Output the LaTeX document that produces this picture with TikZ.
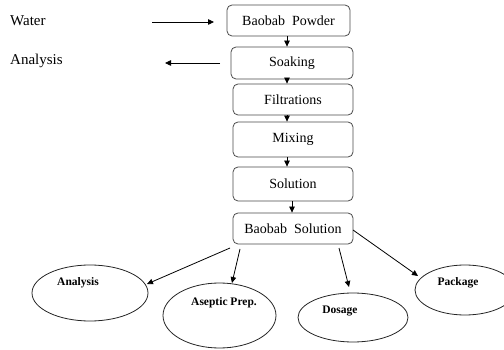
\documentclass[tikz,border=0pt]{standalone}
\usepackage{fontspec}
\setmainfont{Liberation Serif}
\usetikzlibrary{arrows.meta,shapes.geometric}
\begin{document}
\begin{tikzpicture}[x=1pt,y=-1pt,
  stepbox/.style={draw=black!70,line width=0.8pt,rounded corners=5pt,minimum width=120pt,inner sep=0pt,font=\fontsize{14}{16}\selectfont},
  oval/.style={draw=black!85,line width=0.8pt,ellipse,inner sep=0pt},
  olabel/.style={font=\bfseries\fontsize{11.5}{13}\selectfont,inner sep=0pt},
  side/.style={font=\fontsize{15}{17}\selectfont,anchor=west,inner sep=0pt},
  arr/.style={line width=0.8pt,-{Triangle[length=6pt,width=5.5pt]}}]
\useasboundingbox (0,0) rectangle (504,350);
\fill[white] (0,0) rectangle (504,350);
% boxes
\node[stepbox,minimum width=123pt,minimum height=31pt] (bp) at (288.5,20.5) {Baobab\ \ Powder};
\node[stepbox,minimum width=122pt,minimum height=32pt] (so) at (292,63) {Soaking};
\node[stepbox,minimum height=31pt] (fi) at (293,99.5) {Filtrations};
\node[stepbox,minimum height=35pt] (mi) at (293,139.5) {Mixing};
\node[stepbox,minimum height=34pt] (sl) at (293,184) {Solution};
\node[stepbox,minimum height=31pt] (bs) at (293,228.5) {Baobab\ \ Solution};
% spine
\coordinate (sp) at (287,0);
\coordinate (sp2) at (292,0);
\draw[arr] (bp.south -| sp) -- (so.north -| sp);
\draw[arr] (so.south -| sp) -- (fi.north -| sp);
\draw[arr] (fi.south -| sp) -- (mi.north -| sp);
\draw[arr] (mi.south -| sp) -- (sl.north -| sp);
\draw[arr] (sl.south -| sp2) -- (bs.north -| sp2);
% side labels
\node[side] (wa) at (10,21) {Water};
\node[side] (an) at (10,61) {Analysis};
\coordinate (w1) at (152,22);
\coordinate (w2) at (214,22);
\draw[arr] (w1) -- (w2);
\coordinate (a1) at (220,63);
\coordinate (a2) at (165,63);
\draw[arr] (a1) -- (a2);
% ellipses
\node[oval,minimum width=116pt,minimum height=56pt] (e1) at (90,293) {};
\node[oval,minimum width=113pt,minimum height=65pt] (e2) at (219.5,315.5) {};
\node[oval,minimum width=110pt,minimum height=49pt] (e3) at (353,317.5) {};
\node[oval,minimum width=100pt,minimum height=50pt] (e4) at (465,290) {};
\node[olabel] (l1) at (78,283) {Analysis};
\node[olabel] (l2) at (224,303) {Aseptic Prep.};
\node[olabel] (l3) at (340,311) {Dosage};
\node[olabel] (l4) at (458,283) {Package};
% connectors
\coordinate (s1) at (230,248);
\coordinate (t1) at (147,284);
\coordinate (s2) at (240,249);
\coordinate (t2) at (232,283);
\coordinate (s3) at (339,248);
\coordinate (t3) at (349,287);
\coordinate (s4) at (353,230);
\coordinate (t4) at (418,276);
\draw[arr] (s1) -- (t1);
\draw[arr] (s2) -- (t2);
\draw[arr] (s3) -- (t3);
\draw[arr] (s4) -- (t4);
\end{tikzpicture}
\end{document}
